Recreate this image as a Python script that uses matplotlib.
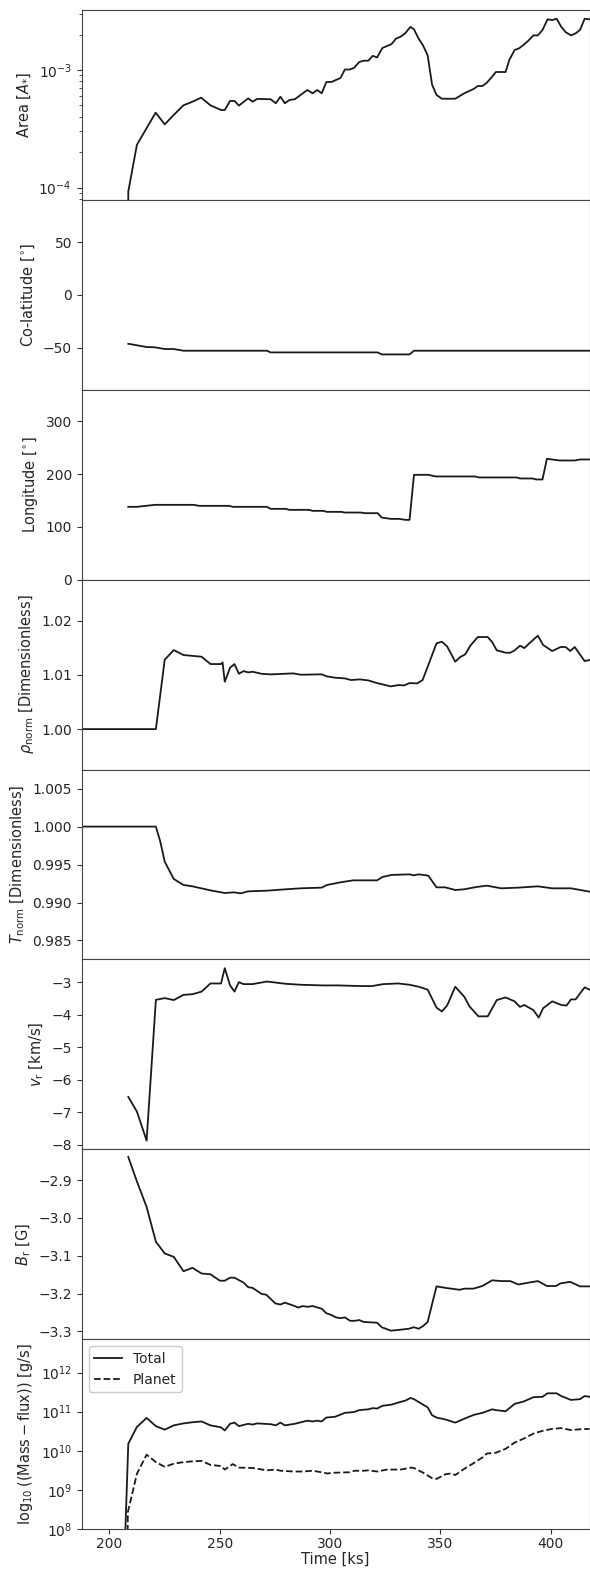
import numpy as np
import matplotlib
matplotlib.use("Agg")
import matplotlib.pyplot as plt
from matplotlib.ticker import NullLocator, FixedLocator

# ---------------- data ----------------
t_area = [206.5, 208.6, 212.5, 221.0, 225.1, 229.2, 233.6, 237.7, 241.6, 245.8,
          250.6, 252.3, 254.7, 256.7, 258.7, 262.9, 264.9, 267.0, 273.1, 275.4,
          277.5, 279.5, 281.6, 284.0, 289.7, 292.1, 294.2, 296.2, 298.3, 300.6,
          304.7, 306.7, 308.8, 310.8, 313.2, 315.2, 317.3, 319.3, 321.3, 323.7,
          325.8, 327.8, 329.9, 331.9, 334.0, 336.4, 338.0, 340.1, 342.1, 344.2,
          346.2, 348.2, 350.6, 356.7, 360.8, 365.2, 366.9, 369.0, 371.0, 373.4,
          375.1, 379.5, 381.2, 383.6, 385.6, 387.7, 389.7, 392.1, 394.1, 396.2,
          398.5, 400.6, 402.6, 404.7, 406.7, 409.1, 411.2, 413.2, 415.3, 417.5]
area = [0.0, 9.25e-5, 2.31e-4, 4.34e-4, 3.45e-4, 4.15e-4, 5.01e-4, 5.38e-4, 5.82e-4, 5.01e-4,
        4.57e-4, 4.57e-4, 5.46e-4, 5.46e-4, 4.98e-4, 5.74e-4, 5.38e-4, 5.68e-4, 5.64e-4, 5.21e-4,
        5.93e-4, 5.21e-4, 5.56e-4, 5.64e-4, 6.76e-4, 6.34e-4, 6.76e-4, 6.34e-4, 7.91e-4, 7.91e-4,
        8.55e-4, 1.01e-3, 1.01e-3, 1.04e-3, 1.17e-3, 1.20e-3, 1.20e-3, 1.32e-3, 1.28e-3, 1.54e-3,
        1.60e-3, 1.66e-3, 1.85e-3, 1.92e-3, 2.05e-3, 2.33e-3, 2.22e-3, 1.85e-3, 1.62e-3, 1.33e-3,
        7.50e-4, 6.14e-4, 5.70e-4, 5.70e-4, 6.34e-4, 6.93e-4, 7.31e-4, 7.31e-4, 7.80e-4, 8.77e-4,
        9.62e-4, 9.62e-4, 1.22e-3, 1.48e-3, 1.53e-3, 1.64e-3, 1.77e-3, 1.97e-3, 1.97e-3, 2.19e-3,
        2.70e-3, 2.66e-3, 2.73e-3, 2.33e-3, 2.10e-3, 1.97e-3, 2.05e-3, 2.19e-3, 2.73e-3, 2.70e-3]

t_colat = [208.6, 216.9, 220.7, 225.1, 229.2, 233.6, 271.4, 273.1, 321.5, 323.4, 336.0, 338.0, 417.5]
colat = [-46.4, -49.5, -49.8, -51.4, -51.4, -53.0, -53.0, -54.6, -54.6, -56.5, -56.5, -53.0, -53.0]

t_lon = [208.6, 212.5, 220.7, 238.2, 240.7, 254.3, 256.0, 271.4, 273.1, 279.9,
         281.5, 290.4, 292.1, 296.9, 298.6, 305.0, 306.7, 313.9, 315.6, 321.5,
         323.4, 327.5, 331.2, 334.3, 336.0, 338.0, 344.5, 347.9, 365.7, 367.4,
         384.4, 386.1, 391.7, 393.4, 396.2, 398.2, 404.0, 410.8, 413.3, 417.5]
lon = [138.0, 138.0, 141.8, 141.8, 139.9, 139.9, 138.0, 138.0, 134.2, 134.2,
       132.3, 132.3, 130.4, 130.4, 128.5, 128.5, 127.2, 127.2, 126.0, 126.0,
       117.7, 115.2, 115.2, 113.3, 113.3, 198.7, 198.7, 195.6, 195.6, 193.7,
       193.7, 191.8, 191.8, 189.9, 189.9, 229.1, 225.9, 225.9, 227.8, 227.8]

t_rho = [187.5, 221.1, 225.1, 229.2, 233.6, 241.8, 245.8, 250.6, 251.3, 252.3,
         254.7, 256.7, 258.7, 260.8, 262.9, 264.9, 269.0, 273.1, 283.3, 286.7,
         296.2, 298.6, 302.3, 306.7, 309.5, 313.5, 317.3, 321.3, 327.5, 330.9,
         333.6, 336.0, 339.4, 341.9, 344.5, 348.2, 350.6, 353.0, 356.7, 358.9,
         361.2, 363.5, 366.9, 371.4, 373.4, 375.5, 379.5, 381.6, 383.6, 386.0,
         388.0, 390.4, 394.1, 396.5, 400.6, 404.4, 406.7, 408.8, 410.8, 415.3,
         417.5]
rho = [1.0, 1.0, 1.0128, 1.01458, 1.01366, 1.01335, 1.0120, 1.0120, 1.0123, 1.00874,
       1.01132, 1.0120, 1.0102, 1.0107, 1.01046, 1.01058, 1.0102, 1.01009, 1.01028, 1.01003,
       1.0101, 1.00972, 1.00948, 1.00935, 1.00905, 1.00917, 1.00898, 1.00849, 1.00788, 1.00812,
       1.00806, 1.00849, 1.00843, 1.00905, 1.01182, 1.01582, 1.01612, 1.01526, 1.01243, 1.01329,
       1.01378, 1.01538, 1.01698, 1.01698, 1.01606, 1.01452, 1.01409, 1.01409, 1.01452, 1.01538,
       1.01495, 1.01588, 1.01723, 1.01551, 1.0144, 1.01514, 1.01514, 1.0144, 1.01514, 1.01255,
       1.01274]

t_temp = [187.5, 221.1, 223.1, 225.1, 229.2, 233.6, 237.7, 245.8, 252.3, 256.4,
          259.5, 262.9, 271.4, 279.9, 286.7, 296.2, 298.6, 304.7, 310.5, 321.3,
          323.7, 327.8, 336.0, 338.0, 340.1, 344.5, 348.2, 352.1, 356.7, 360.8,
          366.2, 371.0, 377.5, 385.3, 394.1, 400.6, 409.1, 417.5]
temp = [1.0, 1.0, 0.99802, 0.99538, 0.9931, 0.99231, 0.99213, 0.9916, 0.99125, 0.99134,
        0.99121, 0.99147, 0.99156, 0.99174, 0.99187, 0.99196, 0.99231, 0.99266, 0.99292, 0.99292,
        0.99336, 0.99363, 0.99371, 0.99358, 0.99371, 0.99354, 0.992, 0.992, 0.99165, 0.99174,
        0.99204, 0.99222, 0.99187, 0.99196, 0.99213, 0.99187, 0.99187, 0.99143]

t_vr = [208.6, 212.5, 216.9, 221.1, 225.1, 229.2, 233.6, 237.7, 241.8, 245.8,
        250.6, 252.3, 254.7, 256.7, 258.7, 260.8, 264.9, 271.4, 279.9, 286.7,
        296.9, 303.7, 313.9, 319.0, 324.1, 330.9, 336.0, 340.1, 344.2, 348.2,
        350.6, 353.0, 356.7, 360.8, 363.2, 367.2, 371.4, 375.5, 379.5, 383.6,
        386.0, 388.0, 392.1, 394.5, 396.5, 400.6, 404.7, 407.1, 409.1, 411.2,
        415.3, 417.5]
vr = [-6.525, -6.975, -7.867, -3.543, -3.49, -3.55, -3.39, -3.37, -3.29, -3.04,
      -3.04, -2.57, -3.10, -3.29, -3.0, -3.06, -3.06, -2.98, -3.05, -3.08,
      -3.10, -3.10, -3.12, -3.12, -3.06, -3.04, -3.08, -3.14, -3.23, -3.78,
      -3.90, -3.72, -3.14, -3.45, -3.75, -4.05, -4.05, -3.55, -3.47, -3.59,
      -3.76, -3.70, -3.86, -4.09, -3.80, -3.59, -3.70, -3.72, -3.53, -3.53,
      -3.16, -3.23]

t_br = [208.6, 212.5, 216.9, 221.1, 225.1, 229.2, 233.6, 237.7, 241.8, 245.8,
        250.1, 252.3, 254.7, 256.7, 260.8, 262.9, 264.9, 269.0, 271.1, 275.2,
        277.5, 279.5, 284.0, 285.6, 287.7, 289.7, 292.1, 296.2, 298.3, 300.3,
        302.7, 304.7, 306.7, 309.1, 311.2, 313.2, 315.2, 321.3, 323.4, 327.5,
        331.2, 335.6, 338.0, 340.1, 342.1, 344.2, 348.2, 352.3, 358.7, 360.8,
        364.9, 369.0, 373.4, 377.5, 381.6, 385.3, 390.1, 394.1, 398.2, 402.3,
        404.4, 408.8, 413.2, 417.5]
br = [-2.839, -2.9035, -2.971, -3.063, -3.094, -3.103, -3.141, -3.132, -3.147, -3.149,
      -3.166, -3.166, -3.158, -3.158, -3.171, -3.183, -3.185, -3.201, -3.203, -3.226,
      -3.229, -3.224, -3.233, -3.237, -3.233, -3.235, -3.233, -3.240, -3.252, -3.256,
      -3.263, -3.265, -3.263, -3.272, -3.272, -3.270, -3.275, -3.277, -3.289, -3.298,
      -3.296, -3.293, -3.289, -3.293, -3.286, -3.275, -3.181, -3.185, -3.190, -3.187,
      -3.187, -3.180, -3.165, -3.167, -3.167, -3.176, -3.171, -3.167, -3.180, -3.180,
      -3.173, -3.169, -3.181, -3.181]

t_total = [206.5, 208.6, 212.5, 216.9, 221.1, 225.1, 229.2, 233.6, 237.7, 241.8,
           245.8, 250.6, 252.3, 254.7, 256.7, 258.7, 262.9, 264.9, 267.0, 273.1,
           275.4, 277.5, 279.5, 284.0, 289.7, 292.1, 294.2, 296.2, 298.3, 302.3,
           306.7, 310.8, 313.2, 317.3, 319.3, 321.3, 323.7, 327.8, 331.9, 334.0,
           336.4, 338.0, 342.1, 344.2, 346.2, 348.2, 352.3, 356.7, 360.8, 365.2,
           369.0, 373.4, 375.1, 379.5, 383.6, 387.7, 392.1, 396.2, 398.5, 402.6,
           404.7, 409.1, 413.2, 415.3, 417.5]
log_total = [6.66, 10.18, 10.61, 10.84, 10.63, 10.54, 10.65, 10.70, 10.73, 10.75,
             10.65, 10.60, 10.52, 10.69, 10.72, 10.63, 10.69, 10.67, 10.70, 10.68,
             10.65, 10.72, 10.65, 10.69, 10.77, 10.75, 10.77, 10.75, 10.85, 10.87,
             10.97, 10.99, 11.04, 11.06, 11.09, 11.08, 11.15, 11.18, 11.25, 11.28,
             11.35, 11.32, 11.18, 11.11, 10.91, 10.85, 10.80, 10.72, 10.82, 10.92,
             10.97, 11.06, 11.04, 11.01, 11.20, 11.26, 11.37, 11.38, 11.47, 11.47,
             11.40, 11.30, 11.32, 11.40, 11.38]

t_planet = [207.8, 208.4, 212.5, 216.9, 221.1, 225.1, 229.2, 233.6, 237.7, 241.8, 245.8,
            250.6, 252.3, 255.9, 258.7, 264.9, 271.4, 275.4, 277.5, 283.3, 287.7,
            292.1, 296.2, 298.6, 302.3, 308.8, 311.2, 315.2, 317.3, 321.3, 325.8,
            331.9, 334.0, 336.4, 338.0, 342.1, 346.2, 348.2, 352.3, 354.7, 356.7,
            360.8, 365.2, 369.0, 371.0, 375.1, 379.5, 383.6, 387.7, 392.1, 396.2,
            400.6, 404.7, 409.1, 413.2, 417.5]
log_planet = [5.0, 8.43, 9.41, 9.90, 9.71, 9.59, 9.67, 9.71, 9.73, 9.74, 9.64,
              9.61, 9.52, 9.66, 9.57, 9.56, 9.50, 9.52, 9.49, 9.47, 9.47,
              9.49, 9.45, 9.42, 9.44, 9.45, 9.49, 9.49, 9.50, 9.47, 9.52,
              9.52, 9.54, 9.57, 9.56, 9.44, 9.30, 9.28, 9.40, 9.42, 9.38,
              9.54, 9.69, 9.83, 9.93, 9.95, 10.05, 10.21, 10.31, 10.44, 10.51,
              10.56, 10.58, 10.53, 10.55, 10.56]

ylabels = [r"Area [$A_{*}$]", r"Co-latitude [$^{\circ}$]", r"Longitude [$^{\circ}$]",
           r"$\rho_{\rm norm}$ [Dimensionless]", r"$T_{\rm norm}$ [Dimensionless]",
           r"$v_{\rm r}$ [km/s]", r"$B_{\rm r}$ [G]",
           r"$\log_{10}(({\rm Mass-flux}))$ [g/s]"]
xticks = [200, 250, 300, 350, 400]

# ---------------- figure ----------------
plt.rcParams['font.family'] = ['DejaVu Sans']
plt.rcParams['font.size'] = 10
TXT = '#262626'
plt.rcParams['text.color'] = TXT
plt.rcParams['axes.labelcolor'] = TXT
plt.rcParams['axes.labelsize'] = 10.5
plt.rcParams['xtick.labelsize'] = 10
plt.rcParams['ytick.labelsize'] = 10
plt.rcParams['xtick.color'] = '#333333'
plt.rcParams['ytick.color'] = '#333333'
plt.rcParams['xtick.labelcolor'] = TXT
plt.rcParams['ytick.labelcolor'] = TXT

fig = plt.figure(figsize=(5.90, 15.69), dpi=100)
gs = fig.add_gridspec(8, 1, left=81.7 / 590, right=589.5 / 590,
                      top=1 - 10 / 1569, bottom=1 - 1529 / 1569, hspace=0)
axes = [fig.add_subplot(gs[i, 0]) for i in range(8)]

LW = 1.3
LC = '#1a1a1a'
xlim = (187.5, 417.5)

axes[0].plot(t_area, area, color=LC, lw=LW)
axes[0].set_yscale('log')
axes[0].set_ylim(7.86e-5, 3.24e-3)

axes[1].plot(t_colat, colat, color=LC, lw=LW)
axes[1].set_ylim(-90, 90)
axes[1].yaxis.set_major_locator(FixedLocator([-50, 0, 50]))

axes[2].plot(t_lon, lon, color=LC, lw=LW)
axes[2].set_ylim(0, 360)
axes[2].yaxis.set_major_locator(FixedLocator([0, 100, 200, 300]))

axes[3].plot(t_rho, rho, color=LC, lw=LW)
axes[3].set_ylim(0.99255, 1.02757)
axes[3].yaxis.set_major_locator(FixedLocator([1.00, 1.01, 1.02]))

axes[4].plot(t_temp, temp, color=LC, lw=LW)
axes[4].set_ylim(0.98251, 1.00752)
axes[4].yaxis.set_major_locator(FixedLocator([0.985, 0.990, 0.995, 1.000, 1.005]))

axes[5].plot(t_vr, vr, color=LC, lw=LW)
axes[5].set_ylim(-8.133, -2.30)
axes[5].yaxis.set_major_locator(FixedLocator([-8, -7, -6, -5, -4, -3]))

axes[6].plot(t_br, br, color=LC, lw=LW)
axes[6].set_ylim(-3.3204, -2.8186)
axes[6].yaxis.set_major_locator(FixedLocator([-3.3, -3.2, -3.1, -3.0, -2.9]))

total = 10.0 ** np.array(log_total)
planet = 10.0 ** np.array(log_planet)
axes[7].plot(t_total, total, color=LC, lw=LW, label='Total')
axes[7].plot(t_planet, planet, color=LC, lw=LW, ls='--', label='Planet')
axes[7].set_yscale('log')
axes[7].set_ylim(1e8, 10 ** 12.855)
axes[7].yaxis.set_minor_locator(NullLocator())
leg = axes[7].legend(loc='upper left', fontsize=10, framealpha=1.0,
                     edgecolor='#cccccc', handlelength=2.0)

for i, ax in enumerate(axes):
    ax.set_xlim(*xlim)
    ax.set_ylabel(ylabels[i])
    for s in ax.spines.values():
        s.set_color('#444444')
        s.set_linewidth(0.8)
    ax.xaxis.set_major_locator(FixedLocator(xticks))
    if i < 7:
        ax.tick_params(axis='x', which='both', bottom=False, labelbottom=False)
axes[7].tick_params(axis='x', pad=2.5)
axes[7].set_xlabel('Time [ks]', labelpad=0.5)

fig.savefig('out.png', dpi=100)
